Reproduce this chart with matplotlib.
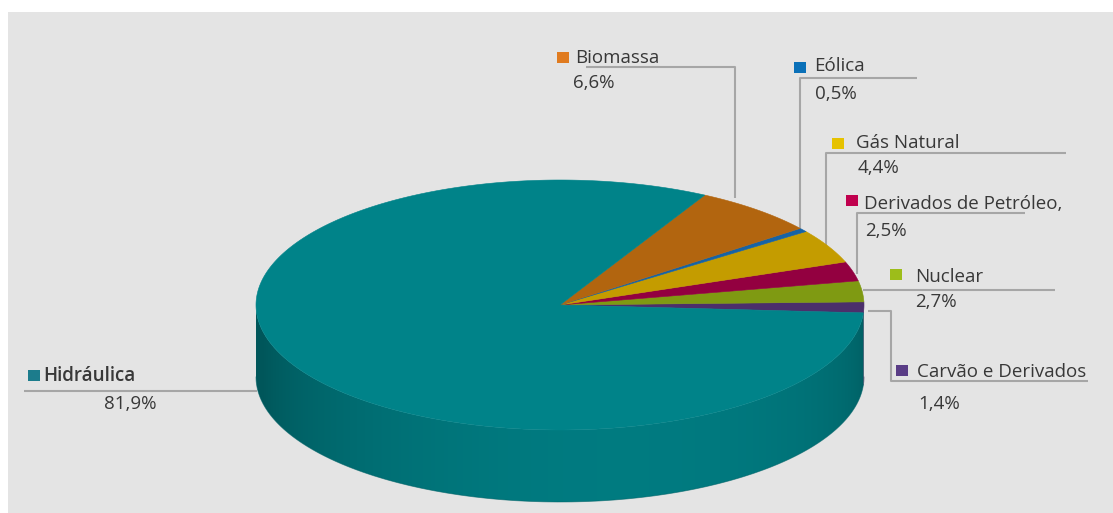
import numpy as np
import matplotlib
matplotlib.use("Agg")
import matplotlib.pyplot as plt
from matplotlib.patches import Polygon, Rectangle
from matplotlib.colors import to_rgb

# Electricity supply by source (counter-clockwise from the right edge)
sources = ["Carvão e Derivados", "Nuclear", "Derivados de Petróleo,",
           "Gás Natural", "Eólica", "Biomassa", "Hidráulica"]
shares = [1.4, 2.7, 2.5, 4.4, 0.5, 6.6, 81.9]
pct_labels = ["1,4%", "2,7%", "2,5%", "4,4%", "0,5%", "6,6%", "81,9%"]

top_colors = ["#4b2f6b", "#7f9a12", "#930040", "#c49c00", "#1663a5", "#b2650f", "#008389"]
key_colors = ["#5a3d86", "#9dbd1a", "#c0004e", "#e6c200", "#0a70b8", "#e07b1f", "#1c7c8c"]

W, H = 1113, 513
fig = plt.figure(figsize=(W / 100, H / 100), dpi=100, facecolor="white")
ax = fig.add_axes([0, 0, 1, 1])
ax.set_xlim(0, W)
ax.set_ylim(H, 0)
ax.axis("off")

ax.add_patch(Rectangle((8, 12), W - 8, H - 12, facecolor="#e4e4e4", edgecolor="none", zorder=0))

# ellipse geometry of the tilted disc
cx, cy, a, b, depth = 560.0, 305.0, 304.0, 125.0, 72.0
start = -3.6


def rim(t_deg, dy=0.0):
    t = np.radians(t_deg)
    return cx + a * np.cos(t), cy - b * np.sin(t) + dy


bounds = start + 3.6 * np.concatenate([[0], np.cumsum(shares)])


def shade_factor(t):
    # lighter where the wall faces the viewer, darker toward the sides
    return 0.66 + 0.28 * np.clip(np.cos(np.radians(t - 282)), 0, None)


# side wall (front half only), shaded along its length
for i, c in enumerate(top_colors):
    t0, t1 = bounds[i], bounds[i + 1]
    for shift in (0, 360):
        lo, hi = max(t0 + shift, 180), min(t1 + shift, 360)
        if hi <= lo:
            continue
        ts = np.linspace(lo, hi, 200)
        top = [rim(t) for t in ts]
        bot = [rim(t, depth) for t in ts[::-1]]
        poly = Polygon(top + bot, closed=True, facecolor="none", edgecolor="none", zorder=2)
        ax.add_patch(poly)
        xs = np.linspace(min(p[0] for p in top), max(p[0] for p in top), 400)
        tt = 360 - np.degrees(np.arccos(np.clip((xs - cx) / a, -1, 1)))
        rgb = np.array(to_rgb(c))[None, :] * shade_factor(tt)[:, None]
        img = np.repeat(rgb[None, :, :], 2, axis=0)
        ylo = min(p[1] for p in top) - 1
        yhi = max(p[1] for p in bot) + 1
        im = ax.imshow(img, extent=(xs[0], xs[-1], yhi, ylo), aspect="auto",
                       interpolation="bilinear", zorder=2)
        im.set_clip_path(poly)
        # soft outline for the bottom curve
        bx, by = zip(*[rim(t, depth) for t in ts])
        ax.plot(bx, by, color=tuple(np.array(to_rgb(c)) * 0.75), lw=0.6, alpha=0.6, zorder=2)

# top face wedges
for i, c in enumerate(top_colors):
    ts = np.linspace(bounds[i], bounds[i + 1], max(3, int((bounds[i + 1] - bounds[i]) * 2)))
    pts = [(cx, cy)] + [rim(t) for t in ts]
    ax.add_patch(Polygon(pts, closed=True, facecolor=c, edgecolor=c, lw=0.4, zorder=3))

# leader lines
lc = "#a6a6a6"
lw = 1.5
leaders = {
    "Biomassa": [(586, 67), (735, 67), (735, 198)],
    "Eólica": [(917, 78), (800, 78), (800, 228)],
    "Gás Natural": [(1066, 153), (826, 153), (826, 246)],
    "Derivados de Petróleo,": [(1025, 213), (857, 213), (857, 274)],
    "Nuclear": [(863, 290), (1055, 290)],
    "Carvão e Derivados": [(868, 311), (891, 311), (891, 381), (1088, 381)],
    "Hidráulica": [(24, 391), (257, 391)],
}
for pts in leaders.values():
    xs_, ys_ = zip(*pts)
    ax.plot(xs_, ys_, color=lc, lw=lw, solid_capstyle="butt", zorder=1)

# label positions: key square (x, y), name (x, y), percentage (x, y)
label_pos = {
    "Biomassa": ((557, 52), (575, 58), (573, 83)),
    "Eólica": ((794, 62), (814, 66), (815, 94)),
    "Gás Natural": ((832, 138), (856, 143), (858, 168)),
    "Derivados de Petróleo,": ((846, 195), (864, 204), (865, 231)),
    "Nuclear": ((890, 269), (915, 277), (915, 302)),
    "Carvão e Derivados": ((896, 365), (917, 372), (918, 404)),
    "Hidráulica": ((28, 370), (43, 376), (104, 404)),
}

font = dict(family="Open Sans", color="#383838", fontsize=13.5)
for name, pct, kc in zip(sources, pct_labels, key_colors):
    (kx, ky), (tx, ty), (px, py) = label_pos[name]
    ax.add_patch(Rectangle((kx, ky), 12, 11, facecolor=kc, edgecolor="none", zorder=4))
    weight = "semibold" if name == "Hidráulica" else "normal"
    ax.text(tx, ty, name, ha="left", va="center", fontweight=weight, zorder=5, **font)
    ax.text(px, py, pct, ha="left", va="center", zorder=5, **font)

fig.savefig("out.png", dpi=100, facecolor=fig.get_facecolor())
